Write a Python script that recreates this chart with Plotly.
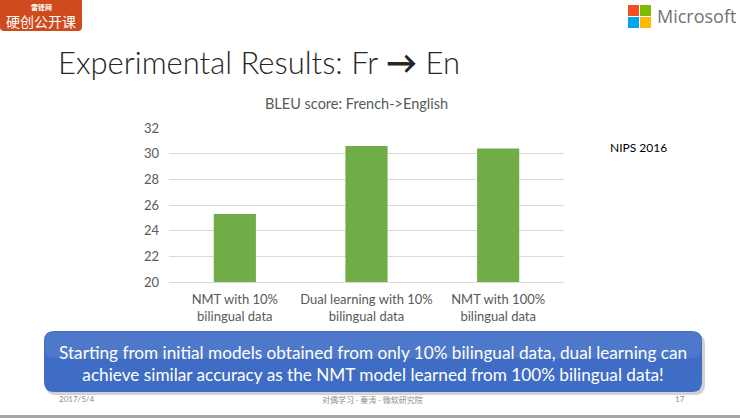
import plotly.graph_objects as go

categories = ["NMT with 10%<br>bilingual data",
              "Dual learning with 10%<br>bilingual data",
              "NMT with 100%<br>bilingual data"]
bleu = [25.3, 30.6, 30.4]
y_ticks = [20, 22, 24, 26, 28, 30, 32]

W, H = 740, 418
FONT = "Lato, 'Open Sans', sans-serif"


def px(x):
    return x / W


def py(y):
    return 1 - y / H


def rrect(x0, y0, x1, y1, r):
    p = lambda x, y: f"{px(x):.5f},{py(y):.5f}"
    s = f"M {p(x0 + r, y0)} L {p(x1 - r, y0)} Q {p(x1, y0)} {p(x1, y0 + r)} "
    s += f"L {p(x1, y1 - r)} Q {p(x1, y1)} {p(x1 - r, y1)} "
    s += f"L {p(x0 + r, y1)} Q {p(x0, y1)} {p(x0, y1 - r)} "
    s += f"L {p(x0, y0 + r)} Q {p(x0, y0)} {p(x0 + r, y0)} Z"
    return s


fig = go.Figure(go.Bar(x=categories, y=bleu, marker=dict(color="#70AD47", line=dict(width=0)),
                       hoverinfo="x+y"))

shapes = []

# callout shadow + box
shapes.append(dict(type="path", xref="paper", yref="paper", path=rrect(46, 334, 705, 395, 10),
                   fillcolor="rgba(0,0,0,0.18)", line=dict(width=0), layer="above"))
shapes.append(dict(type="path", xref="paper", yref="paper", path=rrect(44, 331, 702, 392, 10),
                   fillcolor="#3F6DC6", line=dict(width=0), layer="above"))
shapes.append(dict(type="path", xref="paper", yref="paper", path=rrect(45, 332, 701, 358, 9),
                   fillcolor="rgba(255,255,255,0.08)", line=dict(width=0), layer="above"))

# top-left logo
shapes.append(dict(type="path", xref="paper", yref="paper", path=rrect(0, -5, 82, 31, 4),
                   fillcolor="#CF4A1C", line=dict(width=0), layer="above"))

# Microsoft logo squares
for (x0, y0, c) in [(628, 5, "#F25022"), (640, 5, "#7FBA00"), (628, 17, "#00A4EF"), (640, 17, "#FFB900")]:
    shapes.append(dict(type="rect", xref="paper", yref="paper", x0=px(x0), x1=px(x0 + 11),
                       y0=py(y0), y1=py(y0 + 11), fillcolor=c, line=dict(width=0), layer="above"))

# bottom gray line
shapes.append(dict(type="rect", xref="paper", yref="paper", x0=0, x1=1, y0=py(418), y1=py(415),
                   fillcolor="#A6A6A6", line=dict(width=0), layer="above"))


def ann(text, x, y, size, color, xanchor="center", family=FONT, weight=None, **kw):
    f = dict(family=family, size=size, color=color)
    if weight:
        f["weight"] = weight
    return dict(text=text, x=px(x), y=py(y), xref="paper", yref="paper", xanchor=xanchor,
                yanchor="middle", font=f, showarrow=False, **kw)


CJK = "'Noto Sans CJK SC'"
annotations = [
    ann("Experimental Results: Fr <b>→</b> En", 56, 62, 31, "#262626", xanchor="left", weight=300),
    ann("BLEU score: French->English", 356, 103, 14.5, "#595959"),
    ann("NIPS 2016", 638, 147, 12, "#000000"),
    ann("Starting from initial models obtained from only 10% bilingual data, dual learning can<br>"
        "achieve similar accuracy as the NMT model learned from 100% bilingual data!",
        373, 363, 17.2, "#FFFFFF", align="center"),
    ann("2017/5/4", 57, 399, 8, "#8C8C8C", xanchor="left"),
    ann("对偶学习 - 秦涛 - 微软研究院", 372, 399, 8, "#8C8C8C", family=CJK),
    ann("17", 680, 399, 8, "#8C8C8C"),
    ann("<b>雷锋网</b>", 41, 7, 7, "#FFFFFF", family=CJK),
    ann("硬创公开课", 41, 21, 14, "#FFFFFF", family=CJK),
    ann("Microsoft", 696, 16, 18, "#737373", family="'Open Sans', sans-serif"),
]

fig.update_layout(
    width=W, height=H, autosize=False,
    margin=dict(l=0, r=0, t=0, b=0),
    paper_bgcolor="#FFFFFF", plot_bgcolor="#FFFFFF",
    showlegend=False, bargap=0.68,
    font=dict(family=FONT, color="#595959"),
    xaxis=dict(domain=[px(169), px(564)], showgrid=False, showline=True, linecolor="#D9D9D9",
               linewidth=1, ticks="", tickangle=0, automargin=False, ticklabelstandoff=5,
               tickfont=dict(size=13, color="#595959"), fixedrange=True),
    yaxis=dict(domain=[py(282), py(128)], range=[20, 32], tickvals=y_ticks,
               showgrid=True, gridcolor="#D9D9D9", gridwidth=1, zeroline=False,
               showline=False, ticks="", ticklabelstandoff=9, automargin=False,
               tickfont=dict(size=13, color="#595959"), fixedrange=True),
    shapes=shapes,
    annotations=annotations,
)

fig.write_html("out.html", config={"displayModeBar": False},
               post_script="document.body.style.margin='0';document.body.style.overflow='hidden';")
